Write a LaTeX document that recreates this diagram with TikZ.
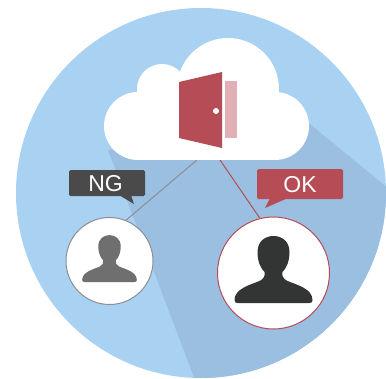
\documentclass[tikz,border=0pt]{standalone}
\usepackage{fontspec}
\setmainfont{Liberation Sans}
\definecolor{skyA}{HTML}{A9D1F2}
\definecolor{skyB}{HTML}{9ABFE0}
\definecolor{redA}{HTML}{B54C56}
\definecolor{pinkA}{HTML}{E0B0B6}
\definecolor{darkA}{HTML}{4A4A4A}
\definecolor{grayA}{HTML}{6E6F6E}
\definecolor{darkB}{HTML}{333535}
\definecolor{lineA}{HTML}{8A8F96}
\tikzset{
  avatar/.style={circle,fill=white,inner sep=0pt,line width=1pt},
  bubble/.style={rounded corners=1.5pt},
  saytext/.style={text=white,font=\fontsize{23}{23}\selectfont,inner sep=0pt},
  link/.style={line width=1pt},
  person/.pic={
    \fill[pic actions] (-16,-21) .. controls (-16,-32) and (-8,-37) .. (0,-37)
      .. controls (8,-37) and (16,-32) .. (16,-21)
      .. controls (16,-10) and (12,-4) .. (9,-1)
      .. controls (8,3) and (10,6) .. (14,8)
      .. controls (24,12) and (39,16) .. (39,27)
      .. controls (39,29) and (38,30) .. (36,30)
      -- (-36,30) .. controls (-38,30) and (-39,29) .. (-39,27)
      .. controls (-39,16) and (-24,12) .. (-14,8)
      .. controls (-10,6) and (-8,3) .. (-9,-1)
      .. controls (-12,-4) and (-16,-10) .. (-16,-21) -- cycle;
  }
}
\begin{document}
\begin{tikzpicture}[x=1pt,y=-1pt]
\useasboundingbox (0,0) rectangle (386,378);
\clip (0,0) rectangle (386,378);
\fill[white] (0,0) rectangle (386,378);
% big disc with its shadow
\fill[skyA] (201,193) circle[radius=185];
\begin{scope}
  \clip (201,193) circle[radius=185];
  \fill[skyB] (108,150) -- (195,380) -- (400,380) -- (400,198) -- (305,120) -- cycle;
\end{scope}
% connectors
\coordinate (cloudL) at (197,160);
\coordinate (cloudR) at (220,160);
\node[avatar,draw=lineA,minimum size=87pt] (ng) at (109.5,261) {};
\node[avatar,draw=redA,minimum size=112pt] (ok) at (273.5,273) {};
\draw[link,lineA] (cloudL) -- (ng.68);
\draw[link,redA] (cloudR) -- (ok.104);
% cloud
\fill[white] (138,126) circle[radius=34];
\fill[white] (275,126) circle[radius=34];
\fill[white] (162,89) circle[radius=25];
\fill[white] (228,89) circle[radius=51];
\fill[white] (138,92) rectangle (275,160);
% door
\fill[redA] (179,82) -- (222,72) -- (222,148) -- (179,138) -- cycle;
\fill[pinkA] (225,81) rectangle (237,138);
\fill[white] (216,111) circle[radius=3];
% bubbles
\fill[darkA,bubble] (69,170) rectangle (145,196);
\fill[darkA] (119,195) -- (134,204) -- (131,195) -- cycle;
\node[saytext] (ngt) at (105.5,184) {NG};
\fill[redA,bubble] (257,169) rectangle (343,199);
\fill[redA] (270,198) -- (265,208) -- (288,198) -- cycle;
\node[saytext] (okt) at (300,185) {OK};
% people
\pic[grayA,scale=0.7] at (ng) {person};
\pic[darkB] at (ok) {person};
\end{tikzpicture}
\end{document}
